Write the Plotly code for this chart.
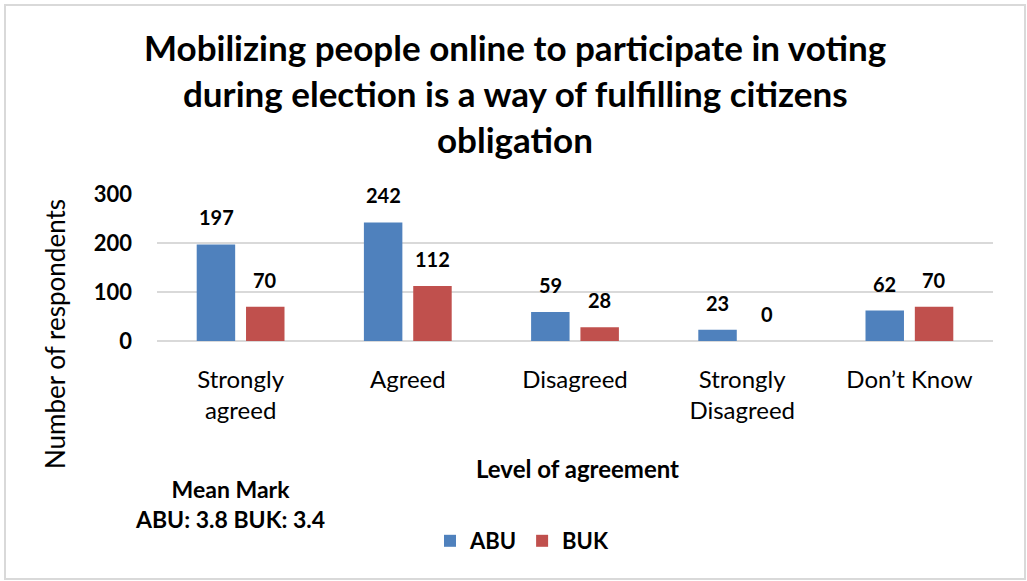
import plotly.graph_objects as go

# Survey responses by level of agreement
categories = ["Strongly<br>agreed", "Agreed", "Disagreed", "Strongly<br>Disagreed", "Don’t Know"]
abu_values = [197, 242, 59, 23, 62]
buk_values = [70, 112, 28, 0, 70]
series_names = ["ABU", "BUK"]
series_colors = ["#4F81BD", "#C0504D"]
y_ticks = [0, 100, 200, 300]
title_lines = [
    "Mobilizing people online to participate in voting",
    "during election is a way of fulfilling citizens",
    "obligation",
]

FONT = "Lato, 'Open Sans', Arial, sans-serif"

W, H = 1027, 581
L, R, T, B = 157, 34, 194, 240


def px(xp, yp):
    """Pixel position -> paper coordinates of the plot domain."""
    return (xp - L) / (W - L - R), (H - B - yp) / (H - T - B)


fig = go.Figure()
for name, vals, col in zip(series_names, [abu_values, buk_values], series_colors):
    fig.add_trace(go.Bar(
        name=name, x=categories, y=vals, marker_color=col,
        marker_line_width=0,
    ))

# Value labels above each bar (offset within the group)
offsets = [-24.5, 24.5]
for vals, dx in zip([abu_values, buk_values], offsets):
    for c, v in zip(categories, vals):
        fig.add_annotation(
            x=c, y=v, xref="x", yref="y", text=f"<b>{v}</b>",
            showarrow=False, xshift=dx, yshift=13, yanchor="bottom",
            xanchor="center", font=dict(family=FONT, size=20, color="#000000"),
        )

fig.update_layout(
    width=W, height=H,
    margin=dict(l=L, r=R, t=T, b=B),
    paper_bgcolor="white", plot_bgcolor="white",
    font=dict(family=FONT, color="#000000"),
    barmode="group", bargap=0.41, bargroupgap=0.22,
    showlegend=True,
    legend=dict(
        orientation="h", x=px(522, 0)[0], xanchor="center", xref="paper",
        y=px(0, 541)[1], yanchor="middle", yref="paper",
        font=dict(family=FONT, size=22, weight="bold"), itemwidth=30,
    ),
    xaxis=dict(
        showgrid=False, showline=False, ticks="",
        tickfont=dict(family=FONT, size=24),
        ticklabelstandoff=22,
    ),
    yaxis=dict(
        range=[0, 300], tickvals=y_ticks, showgrid=True,
        gridcolor="#D9D9D9", gridwidth=1.5, zeroline=True,
        zerolinecolor="#D9D9D9", zerolinewidth=1.5, showline=False,
        tickfont=dict(family=FONT, size=22, weight="bold"),
        ticklabelstandoff=24,
    ),
)

# Title, one line per annotation
for i, line in enumerate(title_lines):
    tx, ty = px(515, 47 + 46 * i)
    fig.add_annotation(
        x=tx, y=ty, xref="paper", yref="paper", text=f"<b>{line}</b>",
        showarrow=False, xanchor="center", yanchor="middle",
        font=dict(family=FONT, size=35, color="#000000"),
    )

# Axis titles
ax, ay = px(577, 468)
fig.add_annotation(
    x=ax, y=ay, xref="paper", yref="paper", text="<b>Level of agreement</b>",
    showarrow=False, xanchor="center", yanchor="middle",
    font=dict(family=FONT, size=24),
)
yx, yy = px(55, 334)
fig.add_annotation(
    x=yx, y=yy, xref="paper", yref="paper", text="Number of respondents",
    showarrow=False, textangle=-90, xanchor="center", yanchor="middle",
    font=dict(family=FONT, size=26),
)
# Mean mark note
mx, my = px(230, 504)
fig.add_annotation(
    x=mx, y=my, xref="paper", yref="paper",
    text="<b>Mean Mark<br>ABU: 3.8 BUK: 3.4</b>",
    showarrow=False, align="center", xanchor="center", yanchor="middle",
    font=dict(family=FONT, size=23),
)

# Outer frame
fx0, fy0 = px(5, 579)
fx1, fy1 = px(1025, 5)
fig.add_shape(
    type="rect", xref="paper", yref="paper",
    x0=fx0, x1=fx1, y0=fy0, y1=fy1,
    line=dict(color="#D9D9D9", width=2), layer="below",
)

fig.write_html("out.html")
